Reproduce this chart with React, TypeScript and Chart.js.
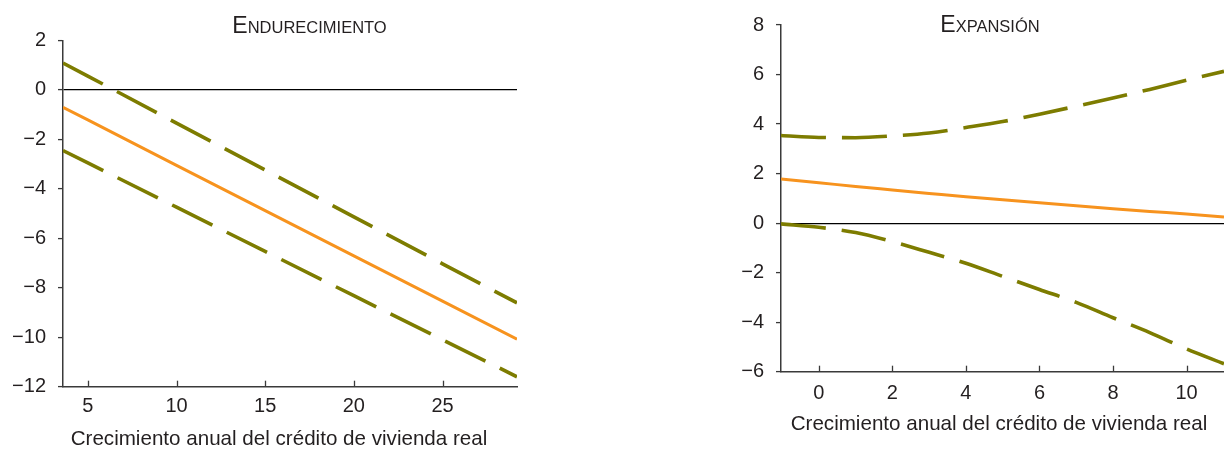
import React, { useEffect, useRef } from 'react';
import { Chart, registerables } from 'chart.js';

Chart.register(...registerables);

const FONT = '"Liberation Sans", Arial, Helvetica, sans-serif';
const OLIVE = '#7d7c00';
const ORANGE = '#f7931e';
const TEXT = '#231f20';
const AXIS = '#3a3a3a';

// ---------- Left panel: Endurecimiento ----------
const leftX = [3.6, 5, 10, 15, 20, 25, 29.2];
const leftUpper = [1.09, 0.56, -1.34, -3.24, -5.13, -7.03, -8.61];
const leftCentral = [-0.7, -1.21, -3.05, -4.88, -6.71, -8.54, -10.08];
const leftLower = [-2.45, -2.95, -4.74, -6.53, -8.32, -10.1, -11.6];
const leftXTicks = [5, 10, 15, 20, 25];
const leftYTicks = [2, 0, -2, -4, -6, -8, -10, -12];

// ---------- Right panel: Expansión ----------
const rightX = [-1.03, 0, 1, 2, 3, 4, 5, 6, 7, 8, 9, 10, 11.02];
const rightUpper = [3.54, 3.46, 3.45, 3.52, 3.64, 3.86, 4.1, 4.4, 4.72, 5.05, 5.4, 5.77, 6.13];
const rightCentral = [1.78, 1.63, 1.48, 1.34, 1.2, 1.06, 0.94, 0.82, 0.7, 0.58, 0.47, 0.37, 0.25];
const rightLower = [-0.03, -0.17, -0.38, -0.75, -1.18, -1.62, -2.15, -2.68, -3.2, -3.82, -4.42, -5.08, -5.68];
const rightXTicks = [0, 2, 4, 6, 8, 10];
const rightYTicks = [8, 6, 4, 2, 0, -2, -4, -6];

const axisTitle = 'Crecimiento anual del crédito de vivienda real';
// titles set in small capitals: first letter large, rest small
const leftTitle = ['E', 'NDURECIMIENTO'];
const rightTitle = ['E', 'XPANSIÓN'];

const fmt = (v: number) => (v < 0 ? '\u2212' + Math.abs(v) : String(v));

const panelPlugin = {
  id: 'panelText',
  afterDraw(chart: any, _args: any, opts: any) {
    const ctx = chart.ctx as CanvasRenderingContext2D;
    const area = chart.chartArea;
    ctx.save();
    // inward x tick marks
    const xs = chart.scales.x;
    ctx.strokeStyle = AXIS;
    ctx.lineWidth = 1.3;
    xs.ticks.forEach((t: any) => {
      const px = Math.round(xs.getPixelForValue(t.value)) + 0.5;
      ctx.beginPath();
      ctx.moveTo(px, area.bottom);
      ctx.lineTo(px, area.bottom - 6);
      ctx.stroke();
    });
    // panel title in small caps
    ctx.fillStyle = TEXT;
    ctx.textBaseline = 'alphabetic';
    ctx.textAlign = 'left';
    const [cap, rest] = opts.title;
    ctx.font = `23px ${FONT}`;
    const w1 = ctx.measureText(cap).width;
    ctx.font = `16.5px ${FONT}`;
    const w2 = ctx.measureText(rest).width;
    const x0 = opts.titleX - (w1 + w2) / 2;
    ctx.font = `23px ${FONT}`;
    ctx.fillText(cap, x0, opts.titleY);
    ctx.font = `16.5px ${FONT}`;
    ctx.fillText(rest, x0 + w1, opts.titleY);
    // x axis title
    ctx.font = `20.6px ${FONT}`;
    ctx.textAlign = 'center';
    ctx.fillText(axisTitle, opts.axisTitleX, opts.axisTitleY);
    ctx.restore();
  },
};

function buildConfig(p: any) {
  const pts = (ys: number[]) => p.xs.map((x: number, i: number) => ({ x, y: ys[i] }));
  const common = { pointRadius: 0, pointHoverRadius: 0, fill: false, cubicInterpolationMode: p.smooth ? 'monotone' : 'default', tension: 0 };
  return {
    type: 'line',
    data: {
      datasets: [
        { ...common, data: pts(p.central), borderColor: ORANGE, borderWidth: 3 },
        { ...common, data: pts(p.upper), borderColor: OLIVE, borderWidth: 3.6, borderDash: [45, 16] },
        { ...common, data: pts(p.lower), borderColor: OLIVE, borderWidth: 3.6, borderDash: [45, 16] },
      ],
    },
    options: {
      animation: false,
      responsive: false,
      maintainAspectRatio: false,
      events: [],
      layout: { padding: { left: 0, right: p.padRight, top: p.padTop, bottom: 0 } },
      plugins: {
        legend: { display: false },
        title: { display: false },
        tooltip: { enabled: false },
        panelText: {
          title: p.title,
          titleX: p.titleX,
          titleY: p.titleY,
          axisTitleX: p.axisTitleX,
          axisTitleY: p.axisTitleY,
        },
      },
      scales: {
        x: {
          type: 'linear',
          min: p.xMin,
          max: p.xMax,
          afterBuildTicks: (s: any) => {
            s.ticks = p.xTicks.map((v: number) => ({ value: v }));
          },
          afterFit: (s: any) => {
            s.height = p.xAxisHeight;
          },
          grid: { display: false, drawTicks: false },
          border: { display: true, color: AXIS, width: 1.5 },
          ticks: { color: TEXT, font: { family: FONT, size: 20 }, padding: p.xPad, maxRotation: 0, autoSkip: false, callback: (v: any) => fmt(Number(v)) },
        },
        y: {
          type: 'linear',
          min: p.yMin,
          max: p.yMax,
          afterBuildTicks: (s: any) => {
            s.ticks = p.yTicks.map((v: number) => ({ value: v }));
          },
          afterFit: (s: any) => {
            s.width = p.yAxisWidth;
          },
          grid: {
            display: true,
            drawOnChartArea: true,
            drawTicks: true,
            tickLength: 5,
            tickWidth: 1.3,
            tickColor: AXIS,
            lineWidth: 1.2,
            color: (c: any) => (c.tick && c.tick.value === 0 ? '#000000' : 'rgba(0,0,0,0)'),
          },
          border: { display: true, color: AXIS, width: 1.5 },
          ticks: { color: TEXT, font: { family: FONT, size: 20 }, padding: 12, autoSkip: false, callback: (v: any) => fmt(Number(v)) },
        },
      },
    },
    plugins: [panelPlugin],
  };
}

function Panel(props: { left: number; width: number; cfg: any }) {
  const ref = useRef<HTMLCanvasElement | null>(null);
  useEffect(() => {
    if (!ref.current) return;
    const chart = new Chart(ref.current, buildConfig(props.cfg) as any);
    return () => chart.destroy();
  }, []);
  return (
    <canvas
      ref={ref}
      width={props.width}
      height={449}
      style={{ position: 'absolute', left: props.left, top: 0, width: props.width, height: 449 }}
    />
  );
}

const leftCfg = {
  xs: leftX, upper: leftUpper, central: leftCentral, lower: leftLower,
  xTicks: leftXTicks, yTicks: leftYTicks,
  xMin: 3.6, xMax: 29.2, yMin: -12, yMax: 2,
  smooth: false,
  padRight: 560 - 517, padTop: 40.5, yAxisWidth: 63, xAxisHeight: 449 - 386.7, xPad: 8,
  title: leftTitle, titleX: 309.5, titleY: 33.3,
  axisTitleX: 279, axisTitleY: 445,
};

const rightCfg = {
  xs: rightX, upper: rightUpper, central: rightCentral, lower: rightLower,
  xTicks: rightXTicks, yTicks: rightYTicks,
  xMin: -1.03, xMax: 11.02, yMin: -6, yMax: 8,
  smooth: true,
  padRight: 0, padTop: 25, yAxisWidth: 101, xAxisHeight: 449 - 371.7, xPad: 10,
  title: rightTitle, titleX: 990 - 680, titleY: 31.7,
  axisTitleX: 999 - 680, axisTitleY: 430,
};

export default function App() {
  return (
    <div style={{ position: 'absolute', left: 0, top: 0, width: 1224, height: 449, overflow: 'hidden', background: '#fff' }}>
      <Panel left={0} width={560} cfg={leftCfg} />
      <Panel left={680} width={544} cfg={rightCfg} />
    </div>
  );
}
